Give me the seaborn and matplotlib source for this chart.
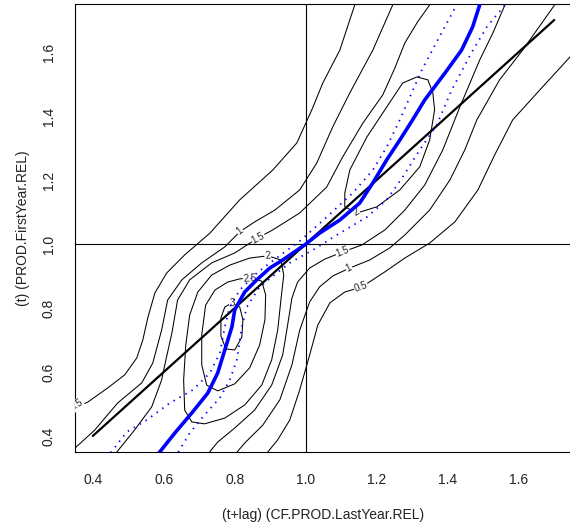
import matplotlib
matplotlib.use("Agg")
import matplotlib.pyplot as plt
import seaborn as sns
import pandas as pd

# ---------------- data ----------------
x_ticks = [0.4, 0.6, 0.8, 1.0, 1.2, 1.4, 1.6]
y_ticks = [0.4, 0.6, 0.8, 1.0, 1.2, 1.4, 1.6]

# 45-degree reference line
diag_x = [0.4, 1.7]
diag_y = [0.4, 1.7]

# density contour lines (x, y)
c05_ul_x = [0.335, 0.349, 0.386, 0.442, 0.490, 0.524, 0.541, 0.555, 0.575, 0.608, 0.659, 0.730, 0.814, 0.907, 0.975, 1.017, 1.048, 1.096, 1.138]
c05_ul_y = [0.478, 0.488, 0.506, 0.550, 0.591, 0.644, 0.700, 0.769, 0.847, 0.909, 0.966, 1.034, 1.138, 1.231, 1.316, 1.419, 1.503, 1.606, 1.747]

c1_ul_x = [0.335, 0.406, 0.470, 0.538, 0.569, 0.594, 0.611, 0.651, 0.707, 0.772, 0.814, 0.856, 0.913, 0.983, 1.031, 1.076, 1.124, 1.189, 1.245]
c1_ul_y = [0.347, 0.419, 0.503, 0.566, 0.628, 0.731, 0.825, 0.888, 0.941, 0.991, 1.038, 1.069, 1.106, 1.169, 1.253, 1.366, 1.472, 1.606, 1.747]

c15_ul_x = [0.454, 0.518, 0.566, 0.594, 0.606, 0.623, 0.639, 0.673, 0.735, 0.800, 0.865, 0.907, 0.983, 1.059, 1.104, 1.161, 1.217, 1.251, 1.279, 1.315, 1.349]
c15_ul_y = [0.331, 0.419, 0.491, 0.575, 0.638, 0.722, 0.825, 0.888, 0.941, 0.972, 1.019, 1.044, 1.097, 1.178, 1.272, 1.378, 1.466, 1.550, 1.628, 1.694, 1.747]

c2_low_x = [0.893, 0.842, 0.786, 0.735, 0.696, 0.673, 0.662, 0.656, 0.659, 0.679, 0.715, 0.772, 0.828, 0.876, 0.904, 0.921, 0.930, 0.938, 0.930, 0.893]
c2_low_y = [0.963, 0.956, 0.934, 0.903, 0.850, 0.778, 0.684, 0.575, 0.481, 0.444, 0.438, 0.456, 0.497, 0.559, 0.638, 0.731, 0.825, 0.903, 0.950, 0.963]

c25_x = [0.842, 0.814, 0.780, 0.744, 0.718, 0.707, 0.707, 0.721, 0.752, 0.800, 0.842, 0.870, 0.885, 0.887, 0.876, 0.842]
c25_y = [0.894, 0.891, 0.881, 0.856, 0.809, 0.716, 0.622, 0.559, 0.541, 0.563, 0.613, 0.684, 0.763, 0.841, 0.884, 0.894]

c3_x = [0.792, 0.814, 0.823, 0.820, 0.800, 0.775, 0.761, 0.761, 0.772, 0.792]
c3_y = [0.816, 0.803, 0.763, 0.709, 0.669, 0.672, 0.713, 0.769, 0.803, 0.816]

c2_up_x = [1.144, 1.110, 1.110, 1.124, 1.172, 1.228, 1.273, 1.313, 1.344, 1.358, 1.363, 1.349, 1.321, 1.265, 1.200, 1.144]
c2_up_y = [1.097, 1.116, 1.159, 1.231, 1.334, 1.428, 1.503, 1.522, 1.513, 1.472, 1.419, 1.325, 1.241, 1.169, 1.116, 1.097]

c15_lr_x = [0.715, 0.752, 0.800, 0.856, 0.904, 0.935, 0.949, 0.961, 0.977, 1.011, 1.054, 1.104, 1.158, 1.223, 1.279, 1.335, 1.386, 1.434, 1.490, 1.527, 1.561]
c15_lr_y = [0.331, 0.381, 0.425, 0.481, 0.559, 0.653, 0.747, 0.831, 0.881, 0.925, 0.953, 0.975, 0.997, 1.044, 1.106, 1.184, 1.294, 1.428, 1.575, 1.659, 1.747]

c1_lr_x = [0.792, 0.828, 0.879, 0.927, 0.961, 0.983, 1.011, 1.039, 1.076, 1.124, 1.180, 1.237, 1.279, 1.349, 1.406, 1.448, 1.482, 1.546, 1.611, 1.701]
c1_lr_y = [0.331, 0.378, 0.434, 0.513, 0.622, 0.731, 0.819, 0.866, 0.900, 0.925, 0.950, 0.988, 1.028, 1.106, 1.200, 1.294, 1.388, 1.513, 1.606, 1.747]

c05_lr_x = [0.879, 0.921, 0.955, 0.983, 1.011, 1.034, 1.068, 1.110, 1.158, 1.223, 1.279, 1.349, 1.420, 1.485, 1.532, 1.583, 1.659, 1.744, 1.772]
c05_lr_y = [0.331, 0.388, 0.450, 0.544, 0.653, 0.747, 0.816, 0.850, 0.866, 0.913, 0.956, 1.003, 1.069, 1.169, 1.278, 1.388, 1.481, 1.584, 1.616]

# quantile curve (blue) and its band (dotted)
q_mid_x = [0.575, 0.631, 0.679, 0.724, 0.752, 0.772, 0.792, 0.800, 0.828, 0.862, 0.899, 0.935, 0.997, 1.039, 1.096, 1.152, 1.189, 1.228, 1.265, 1.301, 1.335, 1.392, 1.439, 1.470, 1.490]
q_mid_y = [0.331, 0.409, 0.472, 0.534, 0.597, 0.669, 0.741, 0.794, 0.850, 0.888, 0.925, 0.950, 0.997, 1.034, 1.075, 1.128, 1.191, 1.263, 1.325, 1.388, 1.450, 1.534, 1.606, 1.678, 1.747]

q_hi_x = [0.439, 0.496, 0.552, 0.617, 0.682, 0.730, 0.758, 0.772, 0.786, 0.814, 0.862, 0.899, 0.983, 1.059, 1.132, 1.189, 1.228, 1.265, 1.327, 1.372, 1.425]
q_hi_y = [0.331, 0.413, 0.450, 0.503, 0.544, 0.597, 0.659, 0.741, 0.803, 0.856, 0.909, 0.941, 1.009, 1.084, 1.159, 1.231, 1.303, 1.388, 1.544, 1.638, 1.747]

q_lo_x = [0.631, 0.673, 0.715, 0.758, 0.786, 0.806, 0.820, 0.834, 0.870, 0.918, 0.955, 1.020, 1.096, 1.172, 1.228, 1.273, 1.321, 1.369, 1.411, 1.468, 1.510, 1.561]
q_lo_y = [0.331, 0.409, 0.466, 0.519, 0.575, 0.638, 0.741, 0.803, 0.866, 0.909, 0.941, 0.981, 1.034, 1.084, 1.138, 1.209, 1.294, 1.372, 1.481, 1.600, 1.678, 1.747]

contour_texts = ["0.5", "1", "1.5", "2", "2.5", "3", "2", "1.5", "1", "0.5"]

# ---------------- drawing ----------------
sns.set_style("white")
plt.rcParams["font.family"] = ["Liberation Sans", "DejaVu Sans"]

fig = plt.figure(figsize=(5.7, 5.3), dpi=100)
ax = fig.add_axes([75 / 570, 78 / 530, 497 / 570, 448 / 530])

def draw(xs, ys, **kw):
    df = pd.DataFrame({"x": xs, "y": ys})
    sns.lineplot(data=df, x="x", y="y", sort=False, estimator=None, ax=ax, **kw)

contours = [
    (c05_ul_x, c05_ul_y), (c1_ul_x, c1_ul_y), (c15_ul_x, c15_ul_y),
    (c2_low_x, c2_low_y), (c25_x, c25_y), (c3_x, c3_y), (c2_up_x, c2_up_y),
    (c15_lr_x, c15_lr_y), (c1_lr_x, c1_lr_y), (c05_lr_x, c05_lr_y),
]
for xs, ys in contours:
    draw(xs, ys, color="black", linewidth=0.75)

# labels (placement = styling)
label_pos = [(0.355, 0.497, 33), (0.814, 1.040, 38), (0.866, 1.018, 28),
             (0.893, 0.962, 5), (0.843, 0.893, 4), (0.792, 0.815, 0),
             (1.142, 1.100, 30), (1.104, 0.975, 22), (1.121, 0.926, 25),
             (1.155, 0.866, 20)]
for txt, (lx, ly, rot) in zip(contour_texts, label_pos):
    ax.text(lx, ly, txt, fontsize=7, rotation=rot, rotation_mode="anchor",
            ha="center", va="center", color="#222222", clip_on=True, zorder=3,
            bbox=dict(facecolor="white", edgecolor="none", pad=0.4))

ax.axvline(1.0, color="black", linewidth=0.8, zorder=4)
ax.axhline(1.0, color="black", linewidth=0.8, zorder=4)
draw(diag_x, diag_y, color="black", linewidth=1.6, zorder=5)

draw(q_hi_x, q_hi_y, color="blue", linewidth=1.3, linestyle=(0, (0.8, 3.0)), zorder=6)
draw(q_lo_x, q_lo_y, color="blue", linewidth=1.3, linestyle=(0, (0.8, 3.0)), zorder=6)
draw(q_mid_x, q_mid_y, color="blue", linewidth=2.6, zorder=7)

ax.set_xlim(0.35, 1.75)
ax.set_ylim(0.35, 1.75)
ax.set_xticks(x_ticks)
ax.set_yticks(y_ticks)
ax.set_xticklabels([f"{v:.1f}" for v in x_ticks])
ax.set_yticklabels([f"{v:.1f}" for v in y_ticks], rotation=90, va="center")
ax.tick_params(axis="both", direction="out", length=6, width=0.8, labelsize=10,
               color="black", labelcolor="#222222", pad=8)
ax.tick_params(axis="x", pad=9)
for s in ax.spines.values():
    s.set_color("black")
    s.set_linewidth(0.8)
    s.set_visible(True)

ax.set_xlabel("(t+lag) (CF.PROD.LastYear.REL)", fontsize=10, color="#222222")
ax.set_ylabel("(t) (PROD.FirstYear.REL)", fontsize=10, color="#222222")
ax.xaxis.set_label_coords(0.5, -0.125)
ax.yaxis.set_label_coords(-0.09, 0.5)

fig.savefig("out.png", dpi=100)
